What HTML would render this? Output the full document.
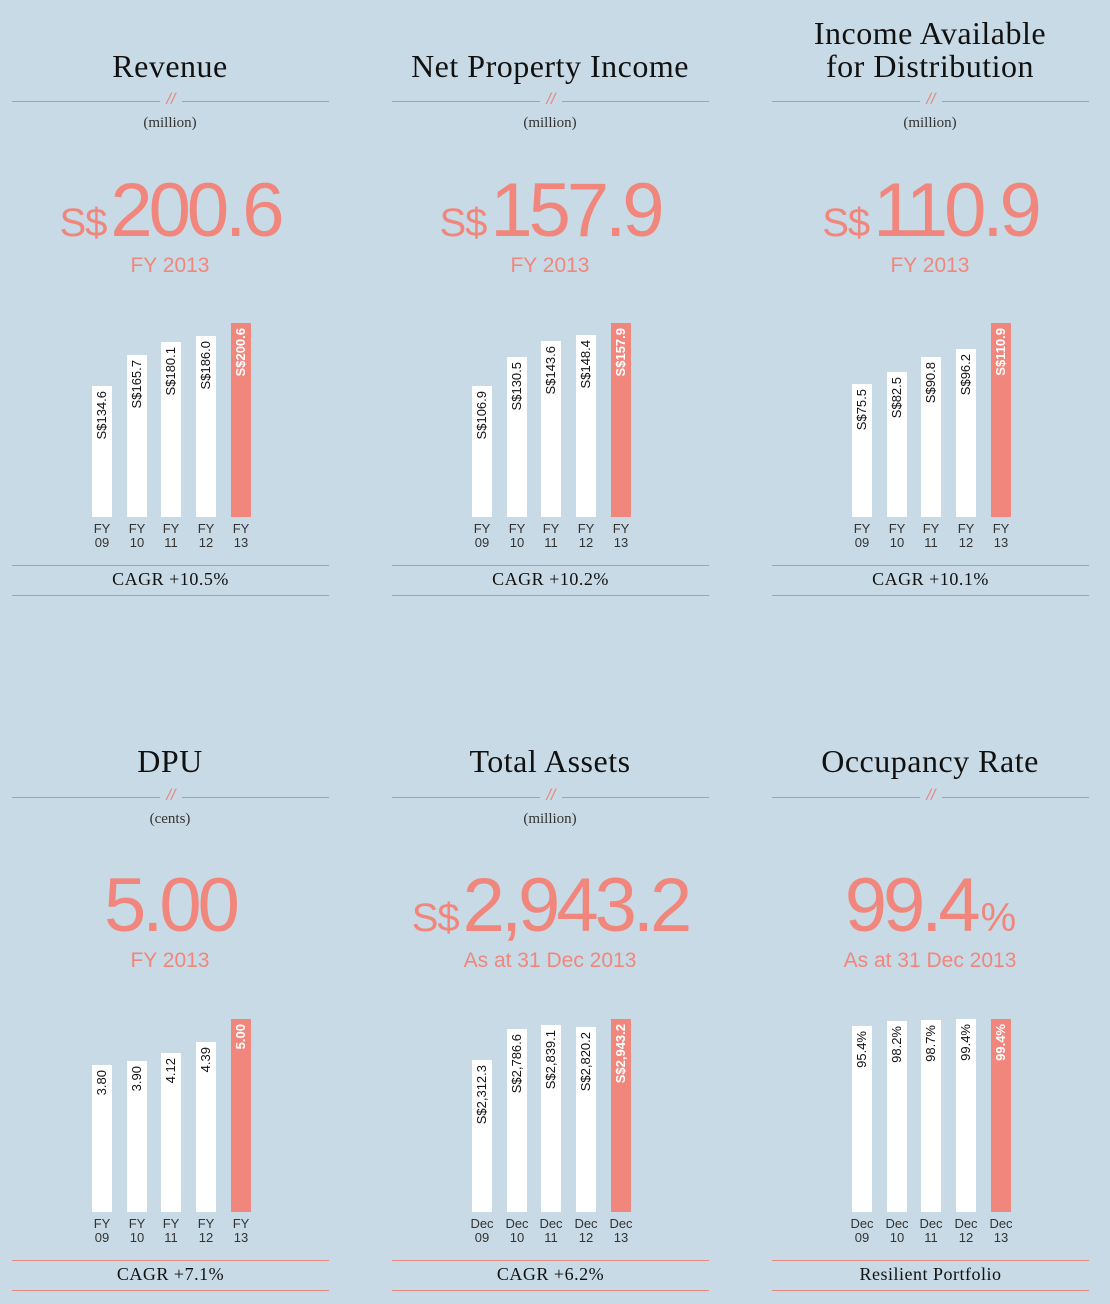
<!DOCTYPE html>
<html><head><meta charset="utf-8"><style>
*{margin:0;padding:0}
body{width:1110px;height:1304px;background:#c8dae5;position:relative;overflow:hidden;font-family:"Liberation Sans",sans-serif}
.t{position:absolute;width:340px;text-align:center;font-family:"Liberation Serif",serif;color:#111;font-size:32px;line-height:33px;letter-spacing:0.5px}
.u{position:absolute;width:340px;text-align:center;font-family:"Liberation Serif",serif;color:#333;font-size:15px}
.ln{position:absolute;height:1px;background:#e48a80}
.sl{position:absolute;color:#e8867c;font-size:16px;font-style:italic;width:20px;text-align:center;font-family:"Liberation Sans",sans-serif}
.big{position:absolute;width:380px;text-align:center;color:#f0867c;font-size:76px;letter-spacing:-4px;line-height:80px;white-space:nowrap}
.big small{font-size:40px;letter-spacing:-1px;margin-right:4px}
.sub{position:absolute;width:380px;text-align:center;color:#f0867c;font-size:21px;line-height:24px}
.b{position:absolute;width:20px;background:#fff}
.b.r{background:#f0867c}
.b span{position:absolute;top:5px;left:0;width:20px;line-height:20px;writing-mode:vertical-rl;transform:rotate(180deg);font-size:13px;color:#111;white-space:nowrap}
.b.r span{color:#fff;font-weight:bold}
.x{position:absolute;width:36px;text-align:center;font-size:13px;line-height:14px;color:#333}
.c{position:absolute;width:317px;text-align:center;font-family:"Liberation Serif",serif;font-size:18px;color:#111;letter-spacing:0.5px}
</style></head><body>

<!-- Row 1 titles -->
<div class="t" style="left:0;top:50px">Revenue</div>
<div class="t" style="left:380px;top:50px">Net Property Income</div>
<div class="t" style="left:760px;top:17px">Income Available<br>for Distribution</div>

<div class="ln" style="left:12px;top:101px;width:148px"></div><div class="ln" style="left:182px;top:101px;width:147px"></div><div class="sl" style="left:161px;top:91px">//</div>
<div class="ln" style="left:392px;top:101px;width:148px"></div><div class="ln" style="left:562px;top:101px;width:147px"></div><div class="sl" style="left:541px;top:91px">//</div>
<div class="ln" style="left:772px;top:101px;width:148px"></div><div class="ln" style="left:942px;top:101px;width:147px"></div><div class="sl" style="left:921px;top:91px">//</div>

<div class="u" style="left:0;top:115px">(million)</div>
<div class="u" style="left:380px;top:115px">(million)</div>
<div class="u" style="left:760px;top:115px">(million)</div>

<div class="big" style="left:-20px;top:171px"><small>S$</small>200.6</div>
<div class="big" style="left:360px;top:171px"><small>S$</small>157.9</div>
<div class="big" style="left:740px;top:171px"><small>S$</small>110.9</div>
<div class="sub" style="left:-20px;top:254px">FY 2013</div>
<div class="sub" style="left:360px;top:254px">FY 2013</div>
<div class="sub" style="left:740px;top:254px">FY 2013</div>

<!-- P1 bars -->
<div class="b" style="left:92px;top:386px;height:131px"><span>S$134.6</span></div>
<div class="b" style="left:127px;top:355px;height:162px"><span>S$165.7</span></div>
<div class="b" style="left:161px;top:342px;height:175px"><span>S$180.1</span></div>
<div class="b" style="left:196px;top:336px;height:181px"><span>S$186.0</span></div>
<div class="b r" style="left:231px;top:323px;height:194px"><span>S$200.6</span></div>
<!-- P2 -->
<div class="b" style="left:472px;top:386px;height:131px"><span>S$106.9</span></div>
<div class="b" style="left:507px;top:357px;height:160px"><span>S$130.5</span></div>
<div class="b" style="left:541px;top:341px;height:176px"><span>S$143.6</span></div>
<div class="b" style="left:576px;top:335px;height:182px"><span>S$148.4</span></div>
<div class="b r" style="left:611px;top:323px;height:194px"><span>S$157.9</span></div>
<!-- P3 -->
<div class="b" style="left:852px;top:384px;height:133px"><span>S$75.5</span></div>
<div class="b" style="left:887px;top:372px;height:145px"><span>S$82.5</span></div>
<div class="b" style="left:921px;top:357px;height:160px"><span>S$90.8</span></div>
<div class="b" style="left:956px;top:349px;height:168px"><span>S$96.2</span></div>
<div class="b r" style="left:991px;top:323px;height:194px"><span>S$110.9</span></div>

<!-- row1 x labels -->
<div class="x" style="left:84px;top:522px">FY<br>09</div><div class="x" style="left:119px;top:522px">FY<br>10</div><div class="x" style="left:153px;top:522px">FY<br>11</div><div class="x" style="left:188px;top:522px">FY<br>12</div><div class="x" style="left:223px;top:522px">FY<br>13</div>
<div class="x" style="left:464px;top:522px">FY<br>09</div><div class="x" style="left:499px;top:522px">FY<br>10</div><div class="x" style="left:533px;top:522px">FY<br>11</div><div class="x" style="left:568px;top:522px">FY<br>12</div><div class="x" style="left:603px;top:522px">FY<br>13</div>
<div class="x" style="left:844px;top:522px">FY<br>09</div><div class="x" style="left:879px;top:522px">FY<br>10</div><div class="x" style="left:913px;top:522px">FY<br>11</div><div class="x" style="left:948px;top:522px">FY<br>12</div><div class="x" style="left:983px;top:522px">FY<br>13</div>

<div class="ln" style="left:12px;top:565px;width:317px"></div><div class="ln" style="left:12px;top:595px;width:317px"></div>
<div class="ln" style="left:392px;top:565px;width:317px"></div><div class="ln" style="left:392px;top:595px;width:317px"></div>
<div class="ln" style="left:772px;top:565px;width:317px"></div><div class="ln" style="left:772px;top:595px;width:317px"></div>
<div class="c" style="left:12px;top:569px">CAGR +10.5%</div>
<div class="c" style="left:392px;top:569px">CAGR +10.2%</div>
<div class="c" style="left:772px;top:569px">CAGR +10.1%</div>

<!-- Row 2 -->
<div class="t" style="left:0;top:745px">DPU</div>
<div class="t" style="left:380px;top:745px">Total Assets</div>
<div class="t" style="left:760px;top:745px">Occupancy Rate</div>

<div class="ln" style="left:12px;top:797px;width:148px"></div><div class="ln" style="left:182px;top:797px;width:147px"></div><div class="sl" style="left:161px;top:787px">//</div>
<div class="ln" style="left:392px;top:797px;width:148px"></div><div class="ln" style="left:562px;top:797px;width:147px"></div><div class="sl" style="left:541px;top:787px">//</div>
<div class="ln" style="left:772px;top:797px;width:148px"></div><div class="ln" style="left:942px;top:797px;width:147px"></div><div class="sl" style="left:921px;top:787px">//</div>

<div class="u" style="left:0;top:811px">(cents)</div>
<div class="u" style="left:380px;top:811px">(million)</div>

<div class="big" style="left:-20px;top:866px">5.00</div>
<div class="big" style="left:360px;top:866px"><small>S$</small>2,943.2</div>
<div class="big" style="left:740px;top:866px">99.4<small style="margin-left:4px;margin-right:0">%</small></div>
<div class="sub" style="left:-20px;top:949px">FY 2013</div>
<div class="sub" style="left:360px;top:949px">As at 31 Dec 2013</div>
<div class="sub" style="left:740px;top:949px">As at 31 Dec 2013</div>

<div class="b" style="left:92px;top:1065px;height:147px"><span>3.80</span></div>
<div class="b" style="left:127px;top:1061px;height:151px"><span>3.90</span></div>
<div class="b" style="left:161px;top:1053px;height:159px"><span>4.12</span></div>
<div class="b" style="left:196px;top:1042px;height:170px"><span>4.39</span></div>
<div class="b r" style="left:231px;top:1019px;height:193px"><span>5.00</span></div>

<div class="b" style="left:472px;top:1060px;height:152px"><span>S$2,312.3</span></div>
<div class="b" style="left:507px;top:1029px;height:183px"><span>S$2,786.6</span></div>
<div class="b" style="left:541px;top:1025px;height:187px"><span>S$2,839.1</span></div>
<div class="b" style="left:576px;top:1027px;height:185px"><span>S$2,820.2</span></div>
<div class="b r" style="left:611px;top:1019px;height:193px"><span>S$2,943.2</span></div>

<div class="b" style="left:852px;top:1026px;height:186px"><span>95.4%</span></div>
<div class="b" style="left:887px;top:1021px;height:191px"><span>98.2%</span></div>
<div class="b" style="left:921px;top:1020px;height:192px"><span>98.7%</span></div>
<div class="b" style="left:956px;top:1019px;height:193px"><span>99.4%</span></div>
<div class="b r" style="left:991px;top:1019px;height:193px"><span>99.4%</span></div>

<div class="x" style="left:84px;top:1217px">FY<br>09</div><div class="x" style="left:119px;top:1217px">FY<br>10</div><div class="x" style="left:153px;top:1217px">FY<br>11</div><div class="x" style="left:188px;top:1217px">FY<br>12</div><div class="x" style="left:223px;top:1217px">FY<br>13</div>
<div class="x" style="left:464px;top:1217px">Dec<br>09</div><div class="x" style="left:499px;top:1217px">Dec<br>10</div><div class="x" style="left:533px;top:1217px">Dec<br>11</div><div class="x" style="left:568px;top:1217px">Dec<br>12</div><div class="x" style="left:603px;top:1217px">Dec<br>13</div>
<div class="x" style="left:844px;top:1217px">Dec<br>09</div><div class="x" style="left:879px;top:1217px">Dec<br>10</div><div class="x" style="left:913px;top:1217px">Dec<br>11</div><div class="x" style="left:948px;top:1217px">Dec<br>12</div><div class="x" style="left:983px;top:1217px">Dec<br>13</div>

<div class="ln" style="left:12px;top:1260px;width:317px"></div><div class="ln" style="left:12px;top:1290px;width:317px"></div>
<div class="ln" style="left:392px;top:1260px;width:317px"></div><div class="ln" style="left:392px;top:1290px;width:317px"></div>
<div class="ln" style="left:772px;top:1260px;width:317px"></div><div class="ln" style="left:772px;top:1290px;width:317px"></div>
<div class="c" style="left:12px;top:1264px">CAGR +7.1%</div>
<div class="c" style="left:392px;top:1264px">CAGR +6.2%</div>
<div class="c" style="left:772px;top:1264px">Resilient Portfolio</div>
</body></html>
